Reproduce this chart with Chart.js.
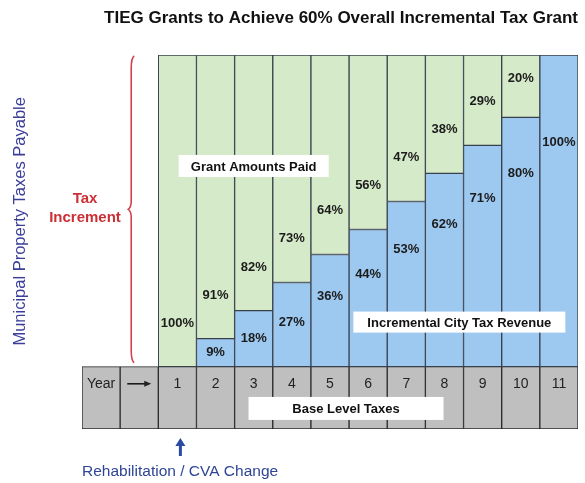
<!DOCTYPE html>
<html>
<head>
<meta charset="utf-8">
<script src="https://cdn.jsdelivr.net/npm/chart.js@4.4.0/dist/chart.umd.min.js"></script>
<style>
  html, body { margin: 0; padding: 0; background: #fff; }
</style>
</head>
<body>
<canvas id="tiegChart" width="585" height="483"></canvas>
<script>
// columns of the table: two header cells, then years 1..11
const columns = ['Year', '→', '1', '2', '3', '4', '5', '6', '7', '8', '9', '10', '11'];
// share of the tax increment, in percent, per year
const cityShare = [0, 9, 18, 27, 36, 44, 53, 62, 71, 80, 100];
const grantShare = [100, 91, 82, 73, 64, 56, 47, 38, 29, 20, 0];
// base level taxes sit below the zero line across the whole table
const baseLevel = [-20, -20, -20, -20, -20, -20, -20, -20, -20, -20, -20, -20, -20];

const FONT = '"Liberation Sans", Arial, sans-serif';
const LINE = '#39414d';

// pad the two header columns with nulls so the bars line up with the years
const cityData = [null, null].concat(cityShare);
const grantData = [null, null].concat(grantShare);

const notes = [
    { text: 'Grant Amounts Paid', at: 4, level: 64.4, w: 150, h: 22 },
    { text: 'Incremental City Tax Revenue', at: 9.39, level: 14.3, w: 212, h: 21 },
    { text: 'Base Level Taxes', at: 6.42, level: -13.4, w: 195, h: 23 }
];

function arrowRight(ctx, x1, x2, yy) {
    ctx.beginPath();
    ctx.moveTo(x1, yy);
    ctx.lineTo(x2 - 5, yy);
    ctx.stroke();
    ctx.beginPath();
    ctx.moveTo(x2, yy);
    ctx.lineTo(x2 - 7, yy - 3);
    ctx.lineTo(x2 - 7, yy + 3);
    ctx.closePath();
    ctx.fill();
}

const overlay = {
    id: 'overlay',
    afterDatasetsDraw(chart) {
        const { ctx } = chart;
        const x = chart.scales.x;
        const y = chart.scales.y;
        ctx.save();
        ctx.textAlign = 'center';
        ctx.textBaseline = 'middle';

        // percent labels inside each segment
        ctx.font = 'bold 13px ' + FONT;
        ctx.fillStyle = '#1c1c1c';
        cityShare.forEach((c, i) => {
            const g = grantShare[i];
            const px = x.getPixelForValue(i + 2);
            if (g > 0) {
                ctx.fillText(g + '%', px, y.getPixelForValue(Math.min(c + 14, 92.5)));
            }
            if (c > 0) {
                const lv = Math.min(Math.max(c * 0.9 - 10, c / 2), 72);
                ctx.fillText(c + '%', px, y.getPixelForValue(lv));
            }
        });

        // white boxed captions
        notes.forEach(n => {
            const cx = x.getPixelForValue(n.at);
            const cy = y.getPixelForValue(n.level);
            ctx.fillStyle = '#ffffff';
            ctx.fillRect(cx - n.w / 2, cy - n.h / 2, n.w, n.h);
            ctx.fillStyle = '#111111';
            ctx.font = 'bold 13px ' + FONT;
            ctx.fillText(n.text, cx, cy + 1);
        });

        // year row
        const rowY = y.getPixelForValue(-5.5);
        ctx.font = '14px ' + FONT;
        ctx.fillStyle = '#222222';
        ctx.strokeStyle = '#111111';
        ctx.lineWidth = 1.5;
        columns.forEach((lbl, i) => {
            const px = x.getPixelForValue(i);
            if (lbl === '→') {
                arrowRight(ctx, px - 12, px + 12, rowY);
            } else {
                ctx.fillText(lbl, px, rowY);
            }
        });

        // brace marking the tax increment
        const top = y.getPixelForValue(100) + 1;
        const bot = y.getPixelForValue(0) - 4;
        const mid = (top + bot) / 2;
        const bx = x.getPixelForValue(1) - 8;
        ctx.strokeStyle = '#d2404a';
        ctx.lineWidth = 1.6;
        ctx.beginPath();
        ctx.moveTo(bx + 3, top);
        ctx.quadraticCurveTo(bx, top + 2, bx, top + 12);
        ctx.lineTo(bx, mid - 8);
        ctx.quadraticCurveTo(bx, mid - 2, bx - 3, mid);
        ctx.quadraticCurveTo(bx, mid + 2, bx, mid + 8);
        ctx.lineTo(bx, bot - 12);
        ctx.quadraticCurveTo(bx, bot - 2, bx + 3, bot);
        ctx.stroke();

        ctx.fillStyle = '#cc2f36';
        ctx.font = 'bold 15px ' + FONT;
        ctx.fillText('Tax', 85, mid - 10);
        ctx.fillText('Increment', 85, mid + 9);

        // vertical axis caption
        ctx.save();
        ctx.translate(20, (top + bot) / 2 + 12);
        ctx.rotate(-Math.PI / 2);
        ctx.fillStyle = '#3b3f98';
        ctx.font = '16.5px ' + FONT;
        ctx.fillText('Municipal Property Taxes Payable', 0, 0);
        ctx.restore();

        // rehabilitation marker under year 1
        const ax = x.getPixelForValue(2) + 3;
        const ay = chart.chartArea.bottom + 9;
        ctx.fillStyle = '#2c4aa0';
        ctx.strokeStyle = '#2c4aa0';
        ctx.lineWidth = 3;
        ctx.beginPath();
        ctx.moveTo(ax, ay + 18);
        ctx.lineTo(ax, ay + 6);
        ctx.stroke();
        ctx.beginPath();
        ctx.moveTo(ax, ay);
        ctx.lineTo(ax - 5, ay + 8);
        ctx.lineTo(ax + 5, ay + 8);
        ctx.closePath();
        ctx.fill();
        ctx.font = '15.5px ' + FONT;
        ctx.fillStyle = '#2f4596';
        ctx.textAlign = 'left';
        ctx.fillText('Rehabilitation / CVA Change', 82, 472);

        ctx.restore();
    }
};

const ctx = document.getElementById('tiegChart').getContext('2d');
new Chart(ctx, {
    type: 'bar',
    data: {
        labels: columns,
        datasets: [
            {
                label: 'Incremental City Tax Revenue',
                data: cityData,
                backgroundColor: '#9dc8ef',
                borderColor: LINE,
                borderWidth: 1,
                borderSkipped: false
            },
            {
                label: 'Grant Amounts Paid',
                data: grantData,
                backgroundColor: '#d5eac8',
                borderColor: LINE,
                borderWidth: 1,
                borderSkipped: false
            },
            {
                label: 'Base Level Taxes',
                data: baseLevel,
                backgroundColor: '#bfbfbf',
                borderColor: '#2a2a2a',
                borderWidth: 1,
                borderSkipped: false
            }
        ]
    },
    options: {
        responsive: false,
        animation: false,
        devicePixelRatio: 1,
        layout: {
            padding: { left: 82, right: 7, top: 0, bottom: 54 }
        },
        datasets: {
            bar: { categoryPercentage: 1, barPercentage: 1 }
        },
        plugins: {
            legend: { display: false },
            tooltip: { enabled: false },
            title: {
                display: true,
                text: 'TIEG Grants to Achieve 60% Overall Incremental Tax Grant',
                align: 'end',
                color: '#111111',
                font: { family: FONT, size: 17, weight: 'bold' },
                padding: { top: 8, bottom: 26.6 }
            }
        },
        scales: {
            x: { stacked: true, display: false },
            y: { stacked: true, display: false, min: -20, max: 100 }
        }
    },
    plugins: [overlay]
});
</script>
</body>
</html>
